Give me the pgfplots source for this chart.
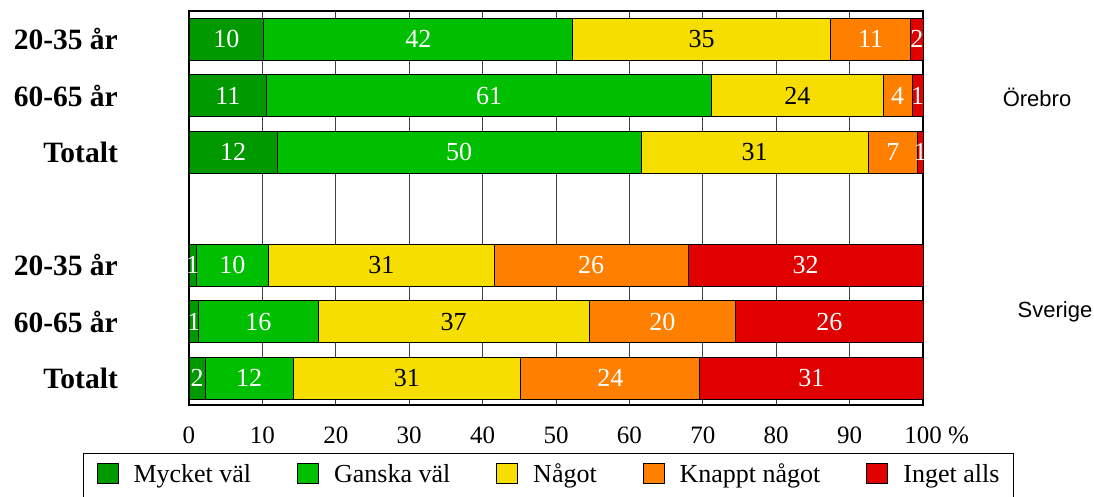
\documentclass[border=0pt]{standalone}
\usepackage{fontspec}
\setmainfont{Liberation Serif}
\newfontfamily\arialfont{Liberation Sans}
\usepackage{pgfplots}
\pgfplotsset{compat=1.18}

\definecolor{cmycket}{RGB}{0,153,0}
\definecolor{cganska}{RGB}{0,190,0}
\definecolor{cnagot}{RGB}{245,222,0}
\definecolor{cknappt}{RGB}{255,128,0}
\definecolor{cinget}{RGB}{224,0,0}

\newcommand\barfont{\fontsize{26bp}{26bp}\selectfont}
\newcommand\tickfont{\fontsize{25bp}{25bp}\selectfont}
\newcommand\catfont{\fontsize{29.5bp}{30bp}\selectfont\bfseries}
\newcommand\legfont{\fontsize{26bp}{26bp}\selectfont}

\begin{document}
\begin{tikzpicture}
\begin{axis}[
  scale only axis,
  width=734bp, height=394bp,
  xbar stacked,
  bar width=42bp,
  xmin=0, xmax=100,
  ymin=-0.475, ymax=6.5,
  xtick={0,10,...,100},
  xticklabels={0,10,20,30,40,50,60,70,80,90,100\rlap{ \%}},
  ytick={0,1,2,4,5,6},
  yticklabels={Totalt,60-65 år,20-35 år,Totalt,60-65 år,20-35 år},
  major tick length=0pt,
  xmajorgrids,
  grid style={black!75, line width=0.8bp},
  axis line style={line width=2bp},
  xticklabel style={font=\tickfont, inner sep=0pt, anchor=north, yshift=-21.5bp},
  yticklabel style={font=\catfont, inner sep=0pt, anchor=east, xshift=-71bp},
  every axis plot/.append style={draw=black, line width=0.9bp},
  point meta=explicit symbolic,
  nodes near coords={\pgfplotspointmeta},
  every node near coord/.append style={font=\barfont, text=white, anchor=center,
    inner sep=0pt},
  area legend,
  legend columns=5,
  legend image code/.code={\draw[#1, line width=0.9bp] (0bp,-2bp) rectangle (21bp,18bp);},
  legend style={at={(0.4898,-0.122)}, anchor=north, draw=black, line width=1.2bp,
    font=\legfont, inner xsep=13bp, inner ysep=9bp,
    /tikz/every odd column/.append style={column sep=14bp},
    /tikz/every even column/.append style={column sep=45bp},
    nodes={inner sep=1bp, text depth=16bp}},
  legend cell align=left,
]
\addplot[fill=cmycket] coordinates {
  (10.2,6) [10] (10.6,5) [11] (12.0,4) [12]
  (1.0,2) [1] (1.3,1) [1] (2.2,0) [2]};
\addplot[fill=cganska] coordinates {
  (42.1,6) [42] (60.6,5) [61] (49.6,4) [50]
  (9.8,2) [10] (16.3,1) [16] (12.0,0) [12]};
\addplot[fill=cnagot, every node near coord/.append style={text=black}] coordinates {
  (35.1,6) [35] (23.4,5) [24] (30.9,4) [31]
  (30.8,2) [31] (36.9,1) [37] (31.0,0) [31]};
\addplot[fill=cknappt] coordinates {
  (10.9,6) [11] (3.9,5) [4] (6.8,4) [7]
  (26.4,2) [26] (20.0,1) [20] (24.4,0) [24]};
\addplot[fill=cinget] coordinates {
  (1.7,6) [2] (1.5,5) [1] (0.7,4) [1]
  (32.0,2) [32] (25.5,1) [26] (30.4,0) [31]};
\legend{Mycket väl, Ganska väl, Något, Knappt något, Inget alls}
\end{axis}
\node[font=\arialfont\fontsize{22bp}{22bp}\selectfont] at (848bp,308bp) {Örebro};
\node[font=\arialfont\fontsize{22bp}{22bp}\selectfont] at (866bp,93bp) {Sverige};
\pgfresetboundingbox
\path[use as bounding box] (-189bp,-92bp) rectangle (905bp,405bp);
\end{tikzpicture}
\end{document}
